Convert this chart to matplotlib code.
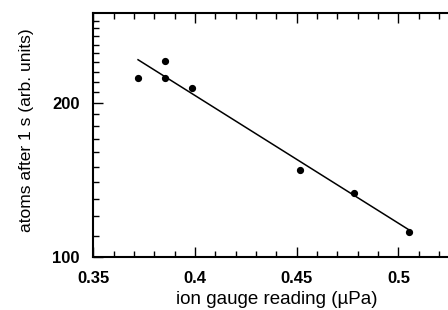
#!/usr/bin/env python3
"""Atom number after 1 s vs ion gauge reading (log y)."""

import matplotlib
matplotlib.use("Agg")
import matplotlib.pyplot as plt
from matplotlib.ticker import FixedLocator, NullFormatter, FormatStrFormatter

# measured points
gauge = [0.3721, 0.3851, 0.3851, 0.3987, 0.4516, 0.4783, 0.5052]
atoms = [224, 242, 224, 214, 148, 133, 112]

# exponential fit (straight on log axis), end points
fit_x = [0.372, 0.505]
fit_y = [243, 113]

x_major = [0.35, 0.40, 0.45, 0.50]
x_labels = ["0.35", "0.4", "0.45", "0.5"]
y_major = [100, 200]
y_minor = [110, 120, 130, 140, 150, 160, 170, 180, 190,
           210, 220, 230, 240, 250, 260, 270, 280, 290]

plt.rcParams["font.family"] = ["Liberation Sans", "DejaVu Sans"]

fig = plt.figure(figsize=(4.48, 3.10), dpi=100)
W, H = 448, 310
# axes run a bit past the right edge, as in the cropped original
ax = fig.add_axes([93.3 / W, 53.3 / H, 366.1 / W, 243.7 / H])

ax.plot(fit_x, fit_y, color="black", lw=1.1)
ax.plot(gauge, atoms, "o", color="black", ms=4.2)

ax.set_yscale("log")
ax.set_xlim(0.35, 0.53)
ax.set_ylim(100, 300)

ax.yaxis.set_major_locator(FixedLocator(y_major))
ax.yaxis.set_minor_locator(FixedLocator(y_minor))
ax.yaxis.set_major_formatter(FormatStrFormatter("%d"))
ax.yaxis.set_minor_formatter(NullFormatter())
ax.xaxis.set_major_locator(FixedLocator(x_major))
ax.xaxis.set_minor_locator(FixedLocator([0.35 + 0.01 * i for i in range(19)]))
ax.set_xticklabels(x_labels)

ax.tick_params(which="both", direction="in", top=True, right=False,
               width=1.0, labelsize=12, pad=10)
ax.tick_params(which="major", length=7)
ax.tick_params(which="minor", length=4)
for lab in ax.get_xticklabels() + ax.get_yticklabels():
    lab.set_fontweight("bold")

for s in ax.spines.values():
    s.set_linewidth(1.5)

ax.set_xlabel("ion gauge reading (µPa)", fontsize=13.5, labelpad=4)
ax.set_ylabel("atoms after 1 s (arb. units)", fontsize=12.5)
ax.yaxis.set_label_coords(-0.162, 0.52)

fig.savefig("out.png", dpi=100)
plt.close(fig)
